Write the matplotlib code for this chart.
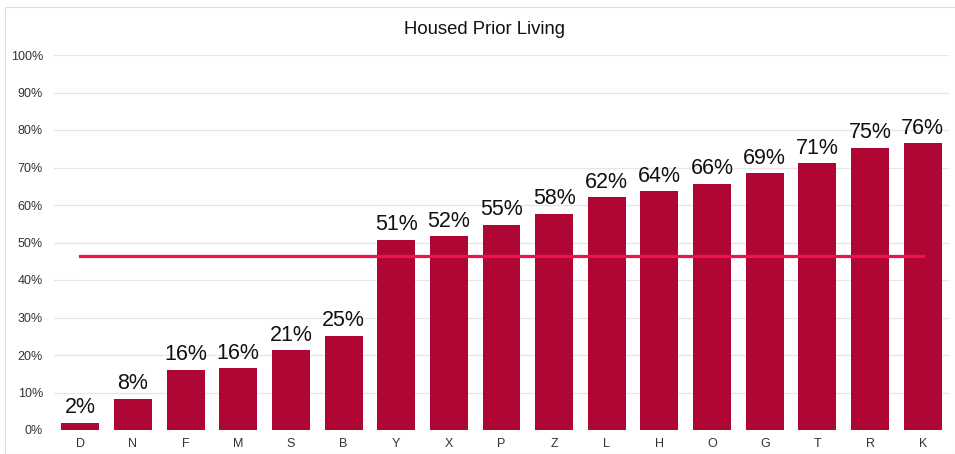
import matplotlib.pyplot as plt
from matplotlib.patches import Rectangle

plt.rcParams['font.family'] = ['Liberation Sans', 'DejaVu Sans']

categories = ['D', 'N', 'F', 'M', 'S', 'B', 'Y', 'X', 'P', 'Z', 'L', 'H', 'O', 'G', 'T', 'R', 'K']
values = [1.9, 8.3, 16.0, 16.5, 21.3, 25.1, 50.7, 51.7, 54.7, 57.6, 62.1, 63.7, 65.6, 68.5, 71.2, 75.2, 76.5]
labels = ['2%', '8%', '16%', '16%', '21%', '25%', '51%', '52%', '55%', '58%', '62%', '64%', '66%', '69%', '71%', '75%', '76%']
average = 46.4

W, H = 955, 454
fig = plt.figure(figsize=(W / 100, H / 100), dpi=100)
ax = fig.add_axes([54 / W, (H - 430) / H, (949 - 54) / W, (430 - 55) / H])

x = list(range(len(categories)))
ax.bar(x, values, width=0.72, color='#B00634', zorder=2)
ax.plot([x[0], x[-1]], [average, average], color='#F0124A', lw=2.3, zorder=3)

for xi, v, lab in zip(x, values, labels):
    ax.text(xi, v + 1.2, lab, ha='center', va='bottom', fontsize=15.5, color='#111111')

ax.set_xlim(-0.5, len(categories) - 0.5)
ax.set_ylim(0, 100)
ax.set_yticks(range(0, 101, 10))
ax.set_yticklabels([f'{t}%' for t in range(0, 101, 10)], fontsize=9, color='#333333')
ax.set_xticks(x)
ax.set_xticklabels(categories, fontsize=9, color='#333333')
ax.tick_params(length=0, pad=6)
ax.tick_params(axis='y', pad=8)
ax.grid(axis='y', color='#E6E6E6', lw=0.9, zorder=0)
for s in ax.spines.values():
    s.set_visible(False)

fig.text(484 / W, 1 - 29 / H, 'Housed Prior Living', ha='center', va='center', fontsize=13.3, color='#111111')
fig.patches.append(Rectangle((5 / W, 0), (W - 5) / W, 1 - 7 / H, transform=fig.transFigure,
                             fill=False, edgecolor='#E0E0E0', lw=0.8))

fig.savefig('out.png', dpi=100)
